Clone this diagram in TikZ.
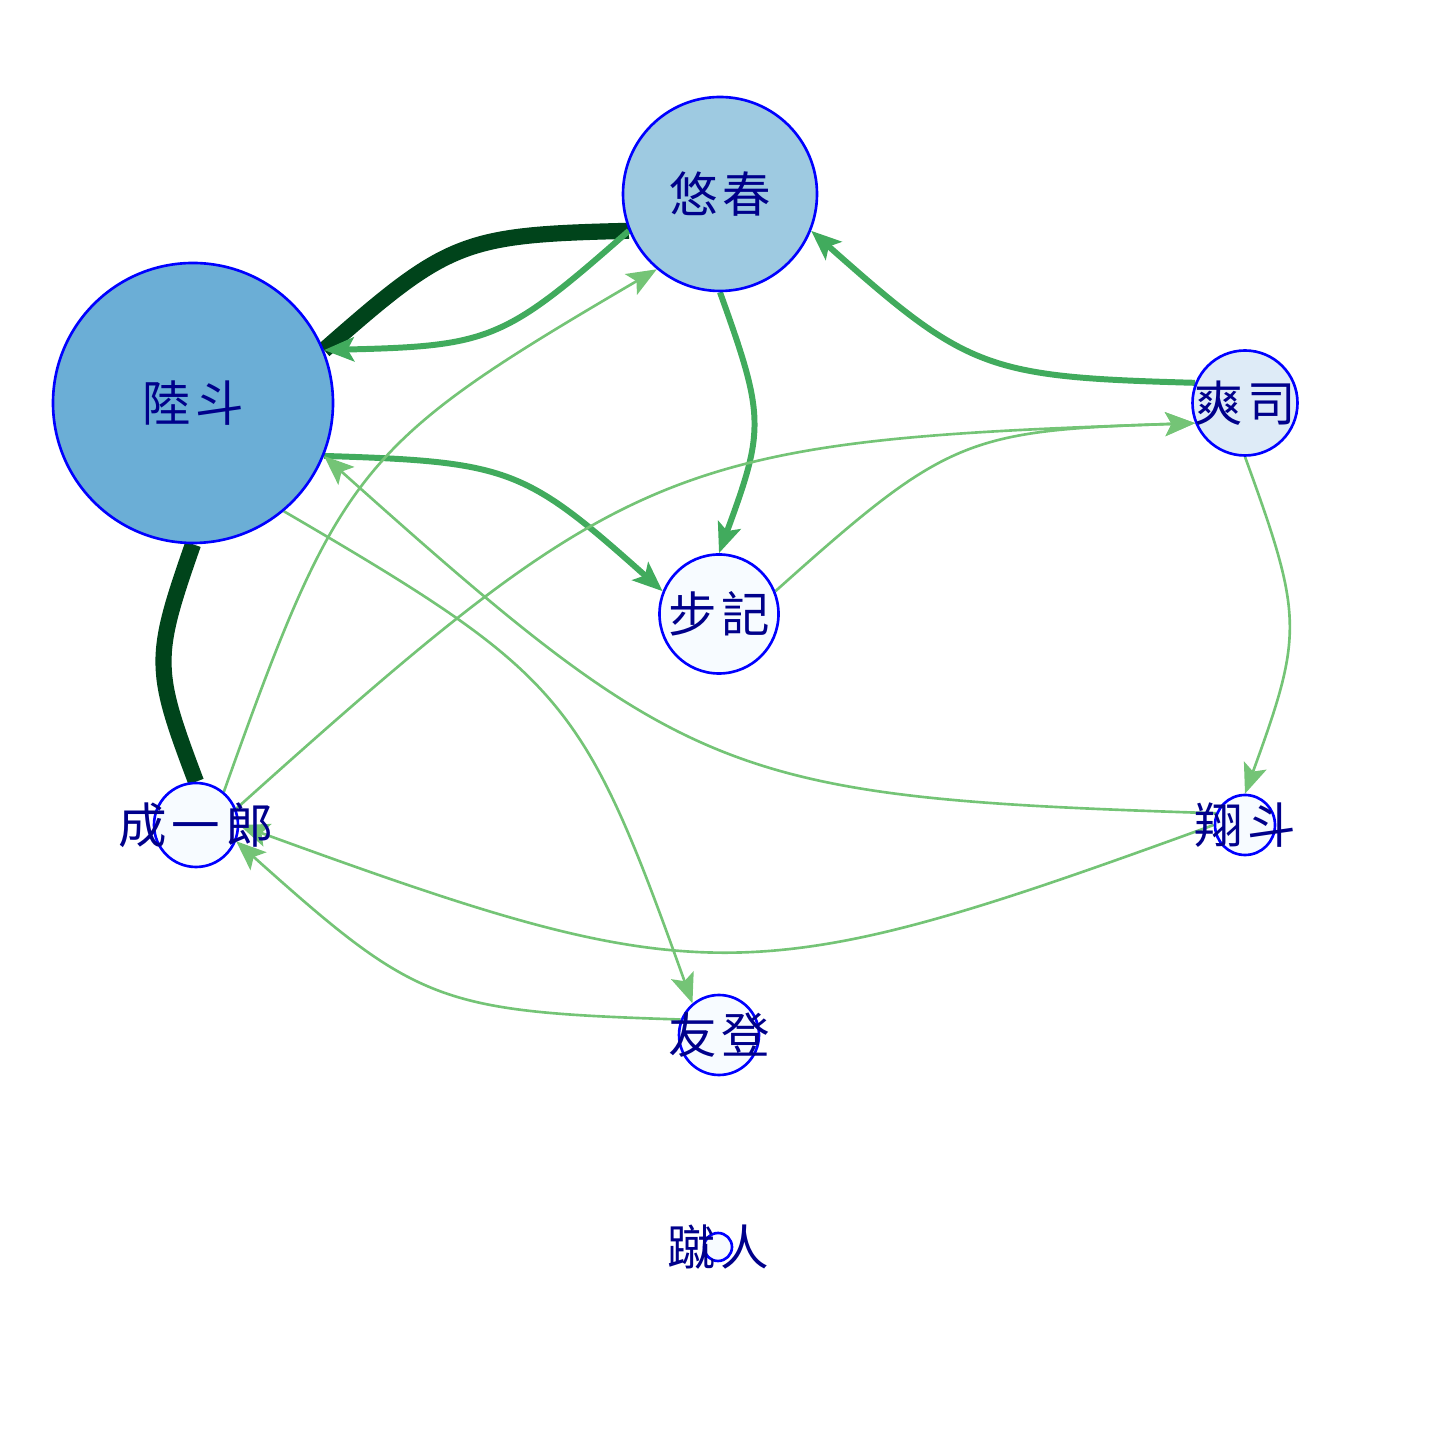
\documentclass[tikz,border=0pt]{standalone}
\usepackage{fontspec}
\newfontfamily\cjk[LetterSpace=10]{Noto Sans CJK SC}
\usepackage{tikz}
\usetikzlibrary{arrows.meta,backgrounds}
\definecolor{ring}{RGB}{0,0,255}
\definecolor{namecol}{RGB}{0,0,139}
\definecolor{fill_a}{HTML}{6BAED6}
\definecolor{fill_b}{HTML}{9ECAE1}
\definecolor{fill_c}{HTML}{DEEBF7}
\definecolor{fill_d}{HTML}{F7FBFF}
\definecolor{tie_dark}{HTML}{00441B}
\definecolor{tie_mid}{HTML}{41AB5D}
\definecolor{tie_light}{HTML}{74C476}

\begin{document}
\begin{tikzpicture}[
            >={Stealth[length=8.5pt,width=6.8pt,inset=1.8pt]},
            person/.style={circle, draw=ring, line width=0.75pt, inner sep=0pt, minimum size=#1},
            name_tag/.style={font=\cjk\fontsize{13.8}{14}\selectfont, text=namecol, inner sep=0pt},
            strong_tie/.style={draw=tie_dark, line width=4.6pt, bend left=20, looseness=1.3},
            mid_tie/.style={->, draw=tie_mid, line width=1.7pt, bend left=20, looseness=1.3},
            weak_tie/.style={->, draw=tie_light, line width=0.75pt, bend left=20, looseness=1.3}
        ]
        \useasboundingbox (0,0) rectangle (14.4,14.4);

        % People
        \node (rikuto) [person=2.80cm, fill=fill_a] at (1.93,10.37) {};
        \node (yuharu) [person=1.94cm, fill=fill_b] at (7.20,12.46) {};
        \node (soji) [person=1.05cm, fill=fill_c] at (12.45,10.37) {};
        \node (ayuki) [person=1.19cm, fill=fill_d] at (7.19,8.26) {};
        \node (seiichiro) [person=0.84cm, fill=fill_d] at (1.96,6.15) {};
        \node (shoto) [person=0.60cm, fill=fill_d] at (12.45,6.15) {};
        \node (yuto) [person=0.80cm, fill=fill_d] at (7.19,4.05) {};
        \node (shuto) [person=0.28cm, fill=fill_d] at (7.18,1.93) {};

        % Names on top
        \foreach \who/\txt in {rikuto/陸斗, yuharu/悠春, soji/爽司, ayuki/步記,
            seiichiro/成一郎, shoto/翔斗, yuto/友登, shuto/蹴人}
            \node (\who_tag) [name_tag] at (\who) {\txt};

        % Ties, under the circles
        \begin{scope}[on background layer]
            \draw[strong_tie] (rikuto.22) to (yuharu.202);
            \draw[strong_tie] (seiichiro.90) to (rikuto.270);
            \draw[mid_tie] (yuharu.202) to (rikuto.22);
            \draw[mid_tie] (rikuto.338) to (ayuki.158);
            \draw[mid_tie] (yuharu.270) to (ayuki.90);
            \draw[mid_tie] (soji.158) to (yuharu.338);
            \draw[weak_tie] (ayuki.22) to (soji.202);
            \draw[weak_tie] (seiichiro.22) to (soji.202);
            \draw[weak_tie] (seiichiro.50) to (yuharu.230);
            \draw[weak_tie] (rikuto.310) to (yuto.130);
            \draw[weak_tie] (soji.270) to (shoto.90);
            \draw[weak_tie] (shoto.158) to (rikuto.338);
            \draw[weak_tie] (shoto.180) to (seiichiro.0);
            \draw[weak_tie] (yuto.158) to (seiichiro.338);
        \end{scope}
        \end{tikzpicture}
\end{document}
